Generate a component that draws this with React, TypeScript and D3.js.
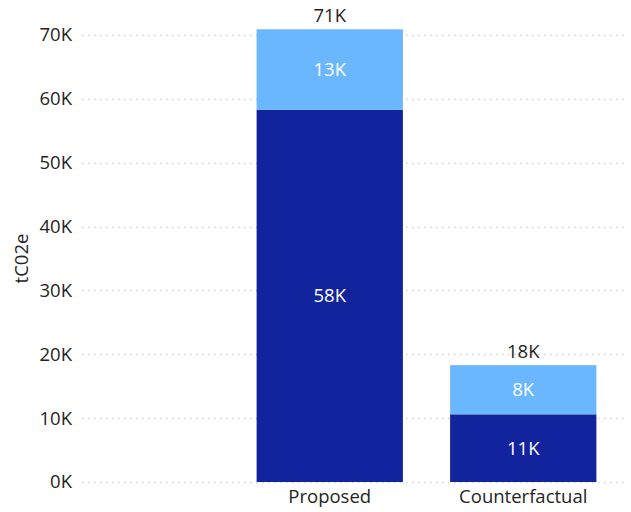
import { useEffect, useRef } from 'react';
import * as d3 from 'd3';

const categories = ['Proposed', 'Counterfactual'];
const baseValues = [58300, 10600];
const addedValues = [12600, 7700];
const yTicks = [0, 10000, 20000, 30000, 40000, 50000, 60000, 70000];

const DARK = '#12239E';
const LIGHT = '#6BB7FF';
const TEXT = '#252423';
const FONT = '"Open Sans", "Noto Sans", sans-serif';
const FONT_SIZE = '18.5px';

const fmtK = (v: number) => `${Math.round(v / 1000)}K`;

export default function App() {
  const svgRef = useRef<SVGSVGElement>(null);

  useEffect(() => {
    if (!svgRef.current) return;
    const width = 631;
    const height = 512;

    d3.select(svgRef.current).selectAll('*').remove();
    const svg = d3.select(svgRef.current)
      .attr('width', width)
      .attr('height', height)
      .style('font-family', FONT);

    const plotLeft = 82;
    const plotRight = 628;
    const plotTop = 35;
    const plotBottom = 482;

    const y = d3.scaleLinear()
      .domain([0, 70000])
      .range([plotBottom, plotTop]);

    const x = d3.scaleBand()
      .domain(categories)
      .range([233, 620])
      .paddingInner(0.244)
      .paddingOuter(0.122);

    // Gridlines (faint dotted)
    svg.append('g')
      .selectAll('line')
      .data(yTicks)
      .enter()
      .append('line')
      .attr('x1', plotLeft)
      .attr('x2', plotRight)
      .attr('y1', d => Math.round(y(d)) + 0.5)
      .attr('y2', d => Math.round(y(d)) + 0.5)
      .attr('stroke', '#D2D2D2')
      .attr('stroke-width', 1.5)
      .attr('stroke-dasharray', '1.5 4.5');

    // Y tick labels
    svg.append('g')
      .selectAll('text')
      .data(yTicks)
      .enter()
      .append('text')
      .attr('x', 72)
      .attr('y', d => y(d))
      .attr('dy', '0.35em')
      .attr('text-anchor', 'end')
      .attr('fill', TEXT)
      .style('font-size', FONT_SIZE)
      .text(d => fmtK(d));

    // Y axis title
    svg.append('text')
      .attr('transform', `translate(28,${(plotTop + plotBottom) / 2}) rotate(-90)`)
      .attr('text-anchor', 'middle')
      .attr('fill', TEXT)
      .style('font-size', FONT_SIZE)
      .text('tC02e');

    const rows = categories.map((c, i) => ({
      name: c,
      base: baseValues[i],
      added: addedValues[i],
    }));

    // Base segments
    svg.append('g')
      .selectAll('rect')
      .data(rows)
      .enter()
      .append('rect')
      .attr('x', d => x(d.name) || 0)
      .attr('width', x.bandwidth())
      .attr('y', d => y(d.base))
      .attr('height', d => y(0) - y(d.base))
      .attr('fill', DARK);

    // Added segments
    svg.append('g')
      .selectAll('rect')
      .data(rows)
      .enter()
      .append('rect')
      .attr('x', d => x(d.name) || 0)
      .attr('width', x.bandwidth())
      .attr('y', d => y(d.base + d.added))
      .attr('height', d => y(d.base) - y(d.base + d.added))
      .attr('fill', LIGHT);

    // Segment labels
    const segLabels = rows.flatMap(d => [
      { name: d.name, mid: d.base / 2, value: d.base },
      { name: d.name, mid: d.base + d.added / 2, value: d.added },
    ]);
    svg.append('g')
      .selectAll('text')
      .data(segLabels)
      .enter()
      .append('text')
      .attr('x', d => (x(d.name) || 0) + x.bandwidth() / 2)
      .attr('y', d => y(d.mid))
      .attr('dy', '0.35em')
      .attr('text-anchor', 'middle')
      .attr('fill', '#FFFFFF')
      .style('font-size', FONT_SIZE)
      .text(d => fmtK(d.value));

    // Total labels
    svg.append('g')
      .selectAll('text')
      .data(rows)
      .enter()
      .append('text')
      .attr('x', d => (x(d.name) || 0) + x.bandwidth() / 2)
      .attr('y', d => y(d.base + d.added) - 7)
      .attr('text-anchor', 'middle')
      .attr('fill', TEXT)
      .style('font-size', FONT_SIZE)
      .text(d => fmtK(d.base + d.added));

    // X category labels
    svg.append('g')
      .selectAll('text')
      .data(categories)
      .enter()
      .append('text')
      .attr('x', d => (x(d) || 0) + x.bandwidth() / 2)
      .attr('y', 497)
      .attr('dy', '0.35em')
      .attr('text-anchor', 'middle')
      .attr('fill', TEXT)
      .style('font-size', FONT_SIZE)
      .text(d => d);
  }, []);

  return (
    <svg
      ref={svgRef}
      style={{ position: 'absolute', left: 0, top: 0, display: 'block' }}
    />
  );
}
